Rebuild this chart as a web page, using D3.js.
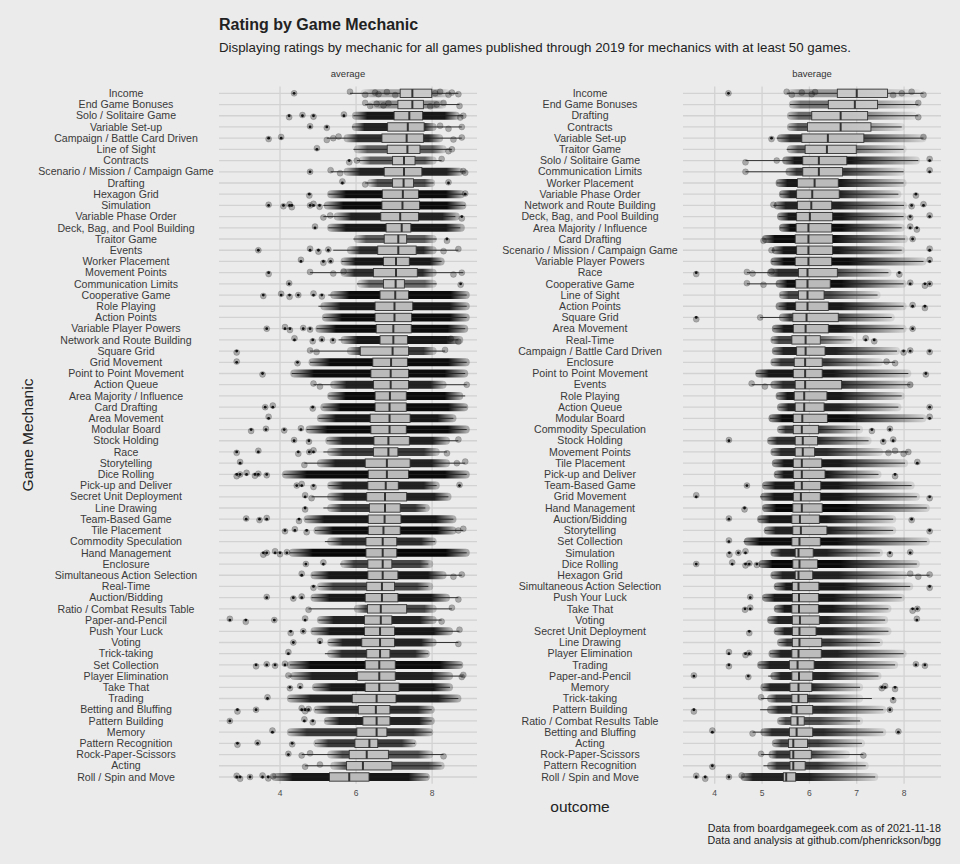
<!DOCTYPE html>
<html>
<head>
<meta charset="utf-8">
<script src="https://cdn.jsdelivr.net/npm/d3@7"></script>
<style>
  body { margin: 0; background: #ebebeb; }
  svg { display: block; font-family: "Liberation Sans", Arial, sans-serif; }
</style>
</head>
<body>
<svg id="chart" width="960" height="864"></svg>
<script>
// ---- average facet ----
var mechanicsAvg = ['Income', 'End Game Bonuses', 'Solo / Solitaire Game', 'Variable Set-up', 'Campaign / Battle Card Driven',
  'Line of Sight', 'Contracts', 'Scenario / Mission / Campaign Game', 'Drafting', 'Hexagon Grid', 'Simulation',
  'Variable Phase Order', 'Deck, Bag, and Pool Building', 'Traitor Game', 'Events', 'Worker Placement', 'Movement Points',
  'Communication Limits', 'Cooperative Game', 'Role Playing', 'Action Points', 'Variable Player Powers',
  'Network and Route Building', 'Square Grid', 'Grid Movement', 'Point to Point Movement', 'Action Queue',
  'Area Majority / Influence', 'Card Drafting', 'Area Movement', 'Modular Board', 'Stock Holding', 'Race', 'Storytelling',
  'Dice Rolling', 'Pick-up and Deliver', 'Secret Unit Deployment', 'Line Drawing', 'Team-Based Game', 'Tile Placement',
  'Commodity Speculation', 'Hand Management', 'Enclosure', 'Simultaneous Action Selection', 'Real-Time', 'Auction/Bidding',
  'Ratio / Combat Results Table', 'Paper-and-Pencil', 'Push Your Luck', 'Voting', 'Trick-taking', 'Set Collection',
  'Player Elimination', 'Take That', 'Trading', 'Betting and Bluffing', 'Pattern Building', 'Memory',
  'Pattern Recognition', 'Rock-Paper-Scissors', 'Acting', 'Roll / Spin and Move'];

// [whisker low, q1, median, q3, whisker high]
var statsAvg = [
  [5.84, 7.16, 7.48, 7.99, 8.69], [6.24, 7.10, 7.48, 7.77, 8.72], [5.93, 7.00, 7.40, 7.75, 8.82], [5.89, 6.83, 7.36, 7.79, 8.78],
  [5.23, 6.68, 7.33, 7.77, 8.78], [5.93, 6.82, 7.35, 7.68, 8.52], [6.02, 6.96, 7.26, 7.55, 8.25], [5.33, 6.74, 7.26, 7.73, 8.87],
  [6.24, 6.96, 7.25, 7.51, 8.04], [5.27, 6.69, 7.23, 7.64, 8.82], [5.14, 6.68, 7.22, 7.67, 8.87], [5.14, 6.65, 7.16, 7.64, 8.61],
  [5.27, 6.79, 7.20, 7.44, 8.74], [5.93, 6.74, 7.11, 7.33, 8.12], [5.40, 6.57, 7.11, 7.58, 8.69], [5.62, 6.72, 7.05, 7.40, 8.25],
  [4.79, 6.46, 7.05, 7.61, 8.82], [6.02, 6.72, 7.04, 7.27, 8.12], [5.27, 6.63, 7.03, 7.38, 8.91], [5.01, 6.50, 7.01, 7.49, 8.91],
  [5.14, 6.50, 7.01, 7.46, 8.91], [4.96, 6.53, 6.98, 7.45, 8.87], [5.54, 6.63, 6.98, 7.35, 8.69], [4.79, 6.11, 6.96, 7.38, 8.34],
  [4.79, 6.44, 6.92, 7.35, 8.91], [4.31, 6.39, 6.91, 7.38, 8.87], [4.88, 6.46, 6.91, 7.38, 8.91], [5.27, 6.50, 6.89, 7.32, 8.87],
  [5.12, 6.50, 6.88, 7.32, 8.91], [5.01, 6.37, 6.88, 7.42, 8.56], [4.70, 6.39, 6.88, 7.32, 8.91], [5.23, 6.47, 6.85, 7.40, 8.69],
  [5.14, 6.46, 6.85, 7.10, 8.39], [4.64, 6.24, 6.81, 7.42, 8.87], [4.09, 6.32, 6.81, 7.38, 8.91], [5.27, 6.31, 6.78, 7.11, 8.12],
  [4.83, 6.28, 6.76, 7.33, 8.43], [5.14, 6.35, 6.76, 7.16, 7.82], [4.66, 6.32, 6.75, 7.18, 8.56], [4.92, 6.32, 6.72, 7.16, 8.82],
  [5.18, 6.26, 6.70, 7.07, 8.08], [4.26, 6.26, 6.70, 7.07, 8.91], [5.58, 6.31, 6.70, 6.94, 7.90], [4.83, 6.31, 6.70, 7.10, 8.78],
  [5.01, 6.28, 6.68, 7.01, 7.90], [4.83, 6.24, 6.68, 7.10, 8.69], [4.75, 6.30, 6.65, 7.33, 8.52], [5.01, 6.22, 6.65, 6.94, 8.25],
  [4.83, 6.22, 6.63, 7.01, 8.72], [5.27, 6.15, 6.63, 7.01, 8.69], [5.18, 6.28, 6.63, 6.89, 7.90], [4.26, 6.24, 6.61, 7.03, 8.78],
  [4.22, 6.04, 6.61, 7.03, 8.82], [4.88, 6.24, 6.61, 7.13, 8.47], [4.22, 5.90, 6.54, 7.05, 8.69], [4.92, 6.06, 6.52, 6.89, 7.99],
  [5.18, 6.18, 6.54, 6.89, 7.99], [4.22, 6.02, 6.54, 6.81, 7.99], [4.92, 5.97, 6.35, 6.57, 7.55], [4.57, 5.82, 6.28, 6.85, 8.30],
  [4.66, 5.75, 6.18, 6.94, 8.25], [3.82, 5.30, 5.82, 6.34, 7.90]];

// dense part of the point cloud: [from, to, darkness]
var coreAvg = [
  [6.2, 8.4, 0.3], [6.4, 8.3, 0.4], [5.97, 8.65, 0.9], [5.97, 8.04, 0.85], [5.75, 8.21, 0.8], [6.02, 8.30, 0.6],
  [6.15, 8.04, 0.6], [5.75, 8.74, 0.85], [6.37, 8.0, 0.65], [5.32, 8.78, 0.95], [5.23, 8.82, 0.95], [5.49, 8.65, 0.85],
  [5.32, 8.78, 0.9], [6.02, 8.04, 0.6], [5.84, 8.04, 0.8], [5.67, 8.25, 0.9], [5.67, 8.04, 0.8], [6.11, 8.04, 0.55],
  [5.40, 8.91, 0.95], [5.14, 8.91, 0.9], [5.18, 8.91, 0.95], [5.01, 8.87, 0.95], [5.67, 8.74, 0.9], [5.84, 8.04, 0.75],
  [4.83, 8.91, 0.95], [4.35, 8.87, 0.95], [5.40, 8.30, 0.85], [5.32, 8.74, 0.95], [5.14, 8.87, 0.95], [5.05, 8.56, 0.9],
  [4.75, 8.91, 0.95], [5.27, 8.39, 0.85], [5.32, 8.12, 0.75], [5.05, 8.39, 0.85], [4.13, 8.91, 0.95], [5.32, 8.12, 0.85],
  [5.32, 8.43, 0.85], [5.32, 7.86, 0.75], [4.70, 8.56, 0.9], [4.96, 8.56, 0.95], [5.32, 8.04, 0.8], [4.31, 8.91, 0.97],
  [5.67, 7.95, 0.7], [4.88, 8.30, 0.9], [5.05, 7.95, 0.7], [4.88, 8.39, 0.9], [6.02, 8.04, 0.7], [5.05, 8.04, 0.85],
  [4.88, 8.47, 0.9], [5.32, 8.04, 0.85], [5.32, 7.86, 0.8], [4.26, 8.74, 0.95], [4.35, 8.47, 0.85], [4.92, 8.47, 0.9],
  [4.26, 8.69, 0.85], [4.96, 7.99, 0.8], [5.23, 7.99, 0.85], [4.26, 7.95, 0.75], [4.96, 7.51, 0.75], [5.32, 7.95, 0.65],
  [5.40, 8.25, 0.65], [3.85, 7.86, 0.9]];

// single points that stand apart from the cloud
var ptsAvg = [
  [4.37, 5.84, 6.24, 6.50, 6.59, 6.81, 7.03, 8.08, 8.21, 8.43, 8.52, 8.69], [6.24, 6.37, 6.54, 6.72, 6.85, 7.95, 8.12, 8.30, 8.72],
  [4.24, 4.59, 4.88, 5.68, 8.74, 8.82], [4.79, 5.23, 8.21, 8.43, 8.78], [3.70, 4.03, 5.23, 5.40, 5.54, 8.56, 8.78],
  [4.97, 8.43, 8.52], [5.82, 6.02, 8.25], [4.79, 5.33, 5.58, 8.82, 8.87], [5.64, 6.24, 8.43], [4.77, 8.87],
  [3.70, 4.09, 4.25, 4.31, 4.79, 4.88, 5.04], [5.14, 5.32, 8.78], [4.92], [8.39], [3.43, 4.79, 5.01, 5.27, 8.30, 8.69],
  [4.55, 5.14, 5.33], [3.70, 4.79, 5.40, 5.67, 8.56, 8.78], [4.24, 8.75], [3.56, 4.03, 4.25, 4.48, 4.88, 5.10], [], [],
  [3.65, 4.13, 4.26, 4.61, 4.79], [4.38, 4.86, 5.10, 5.39, 8.49, 8.69], [2.86, 4.79, 4.96, 8.34], [2.86, 4.46], [3.54],
  [4.88, 5.05, 8.91], [], [3.61, 3.81, 4.86], [3.70], [3.24, 3.63, 4.11, 4.55], [4.37, 4.76, 8.69],
  [2.86, 3.43, 4.48, 4.77, 4.88, 8.39], [2.95, 4.64, 8.65, 8.87], [2.86, 2.95, 3.12, 3.34, 3.43, 3.65], [4.44, 4.57, 4.88, 8.72],
  [4.66, 4.83], [4.66], [3.11, 3.46, 3.65, 4.50], [4.13, 4.39, 4.70, 8.69, 8.82], [], [3.56, 3.65, 3.87, 4.00, 4.18],
  [4.68, 5.14], [4.57, 8.56, 8.78], [4.88], [3.65, 4.35, 4.57, 8.69], [4.75, 8.52], [2.68, 3.10, 3.85, 4.66, 8.25],
  [4.28, 4.61, 8.72], [4.35, 5.05, 8.69], [4.22], [3.37, 3.65, 3.87, 4.13], [4.22, 8.78, 8.82], [4.26, 4.53], [3.67],
  [2.88, 3.37, 4.57, 4.66, 4.75], [2.68, 4.64, 4.86], [3.80], [2.88, 3.41, 4.32], [4.22, 4.57, 4.79, 8.30], [4.66, 5.05],
  [2.86, 2.95, 3.21, 3.54, 3.69, 3.82]];

// ---- baverage facet ----
var mechanicsBavg = ['Income', 'End Game Bonuses', 'Drafting', 'Contracts', 'Variable Set-up', 'Traitor Game',
  'Solo / Solitaire Game', 'Communication Limits', 'Worker Placement', 'Variable Phase Order', 'Network and Route Building',
  'Deck, Bag, and Pool Building', 'Area Majority / Influence', 'Card Drafting', 'Scenario / Mission / Campaign Game',
  'Variable Player Powers', 'Race', 'Cooperative Game', 'Line of Sight', 'Action Points', 'Square Grid', 'Area Movement',
  'Real-Time', 'Campaign / Battle Card Driven', 'Enclosure', 'Point to Point Movement', 'Events', 'Role Playing',
  'Action Queue', 'Modular Board', 'Commodity Speculation', 'Stock Holding', 'Movement Points', 'Tile Placement',
  'Pick-up and Deliver', 'Team-Based Game', 'Grid Movement', 'Hand Management', 'Auction/Bidding', 'Storytelling',
  'Set Collection', 'Simulation', 'Dice Rolling', 'Hexagon Grid', 'Simultaneous Action Selection', 'Push Your Luck',
  'Take That', 'Voting', 'Secret Unit Deployment', 'Line Drawing', 'Player Elimination', 'Trading', 'Paper-and-Pencil',
  'Memory', 'Trick-taking', 'Pattern Building', 'Ratio / Combat Results Table', 'Betting and Bluffing', 'Acting',
  'Rock-Paper-Scissors', 'Pattern Recognition', 'Roll / Spin and Move'];

var statsBavg = [
  [5.52, 6.59, 7.00, 7.65, 8.41], [5.59, 6.40, 6.96, 7.44, 8.30], [5.56, 6.05, 6.66, 7.23, 8.30], [5.56, 5.96, 6.66, 7.30, 7.95],
  [5.31, 5.84, 6.39, 7.15, 8.41], [5.52, 5.91, 6.37, 6.99, 7.99], [4.65, 5.86, 6.20, 6.79, 8.30], [4.65, 5.86, 6.20, 6.70, 7.99],
  [5.31, 5.75, 6.11, 6.61, 7.99], [5.38, 5.73, 6.06, 6.63, 7.88], [5.24, 5.75, 6.04, 6.47, 8.00], [5.35, 5.73, 6.01, 6.49, 7.99],
  [5.38, 5.72, 5.98, 6.47, 7.95], [5.03, 5.70, 5.98, 6.49, 8.02], [5.20, 5.73, 5.98, 6.49, 7.95], [5.20, 5.70, 5.98, 6.47, 8.41],
  [4.68, 5.77, 5.96, 6.59, 7.67], [4.68, 5.71, 5.96, 6.44, 7.99], [5.38, 5.77, 5.96, 6.31, 7.44], [5.35, 5.71, 5.96, 6.40, 7.99],
  [4.96, 5.65, 5.94, 6.61, 7.74], [5.24, 5.66, 5.92, 6.40, 7.99], [5.20, 5.63, 5.92, 6.23, 6.89], [5.24, 5.73, 5.92, 6.33, 7.85],
  [5.20, 5.68, 5.91, 6.27, 7.81], [4.87, 5.66, 5.91, 6.27, 8.09], [4.78, 5.70, 5.91, 6.68, 8.13], [5.31, 5.68, 5.89, 6.37, 7.95],
  [5.35, 5.70, 5.89, 6.31, 7.88], [5.17, 5.66, 5.85, 6.38, 8.41], [5.35, 5.66, 5.84, 6.19, 7.07], [5.13, 5.70, 5.86, 6.17, 7.25],
  [5.20, 5.70, 5.86, 6.11, 8.09], [5.24, 5.66, 5.84, 6.26, 8.02], [5.27, 5.66, 5.84, 6.33, 7.46], [5.03, 5.68, 5.84, 6.24, 8.16],
  [4.96, 5.66, 5.82, 6.23, 8.27], [5.03, 5.65, 5.84, 6.27, 8.48], [4.92, 5.63, 5.80, 6.21, 7.77], [5.06, 5.65, 5.82, 6.37, 7.77],
  [4.61, 5.63, 5.79, 6.23, 8.48], [5.20, 5.70, 5.77, 6.08, 7.49], [4.96, 5.65, 5.79, 6.17, 8.27], [5.20, 5.70, 5.77, 6.07, 8.54],
  [5.27, 5.64, 5.77, 6.20, 8.13], [5.03, 5.64, 5.78, 6.19, 7.95], [5.27, 5.63, 5.78, 6.19, 7.67], [5.13, 5.64, 5.80, 6.21, 7.60],
  [5.27, 5.64, 5.79, 6.14, 7.67], [5.35, 5.64, 5.79, 6.26, 7.49], [5.17, 5.63, 5.77, 6.25, 7.99], [4.92, 5.58, 5.75, 6.10, 7.81],
  [5.13, 5.63, 5.78, 6.07, 7.46], [5.01, 5.59, 5.77, 6.05, 7.07], [4.98, 5.63, 5.77, 5.96, 7.32], [4.96, 5.63, 5.73, 6.07, 7.56],
  [5.35, 5.61, 5.75, 5.89, 7.07], [4.80, 5.58, 5.73, 6.07, 7.56], [5.24, 5.56, 5.66, 5.96, 7.11], [4.98, 5.59, 5.66, 6.04, 7.14],
  [5.03, 5.59, 5.66, 5.91, 7.19], [4.57, 5.45, 5.51, 5.71, 7.39]];

var coreBavg = [
  [5.6, 8.3, 0.35], [5.63, 8.27, 0.5], [5.59, 8.20, 0.55], [5.59, 7.95, 0.6], [5.38, 8.41, 0.8], [5.59, 7.99, 0.6],
  [5.49, 8.27, 0.9], [5.56, 7.95, 0.75], [5.35, 7.99, 0.9], [5.42, 7.88, 0.85], [5.31, 8.00, 0.85], [5.38, 7.99, 0.9],
  [5.42, 7.95, 0.95], [5.06, 8.02, 0.95], [5.27, 7.95, 0.9], [5.24, 8.41, 0.95], [5.17, 7.67, 0.8], [5.35, 7.99, 0.95],
  [5.42, 7.44, 0.7], [5.35, 7.99, 0.9], [5.42, 7.74, 0.75], [5.27, 7.99, 0.9], [5.24, 6.89, 0.7], [5.27, 7.85, 0.85],
  [5.24, 7.49, 0.75], [4.92, 8.09, 0.9], [5.24, 8.13, 0.8], [5.35, 7.95, 0.9], [5.38, 7.88, 0.85], [5.20, 8.41, 0.95],
  [5.38, 7.07, 0.75], [5.17, 7.25, 0.8], [5.24, 7.49, 0.8], [5.27, 8.02, 0.9], [5.31, 7.46, 0.9], [5.06, 8.16, 0.9],
  [5.03, 8.27, 0.9], [5.06, 8.48, 0.97], [4.96, 7.77, 0.9], [5.10, 7.77, 0.85], [4.68, 8.48, 0.95], [5.24, 7.49, 0.85],
  [4.99, 8.27, 0.97], [5.24, 8.0, 0.85], [5.31, 8.13, 0.9], [5.06, 7.95, 0.9], [5.31, 7.67, 0.9], [5.17, 7.60, 0.85],
  [5.31, 7.67, 0.85], [5.38, 7.49, 0.75], [5.20, 7.99, 0.85], [4.96, 7.81, 0.85], [5.24, 7.46, 0.85], [5.03, 7.07, 0.85],
  [5.17, 7.07, 0.75], [5.17, 7.56, 0.8], [5.38, 7.07, 0.65], [5.03, 7.56, 0.8], [5.27, 7.11, 0.7], [5.20, 6.79, 0.75],
  [5.17, 7.19, 0.75], [4.61, 7.39, 0.85]];

var ptsBavg = [
  [4.29, 5.52, 5.63, 5.84, 6.05, 6.12, 7.77, 7.95, 8.16, 8.41], [8.30], [8.30], [], [5.20, 8.41], [],
  [4.65, 5.31, 8.54], [4.65, 8.54], [], [8.25], [5.24, 8.16, 8.41], [8.13, 8.54], [8.13, 8.27], [5.03, 8.18],
  [5.20, 8.54], [8.54], [3.61, 4.68, 4.80, 5.20, 7.90], [4.68, 5.03, 8.13, 8.44, 8.54], [], [8.18, 8.44],
  [3.61, 4.96], [8.18], [7.19, 7.37], [7.99, 8.13, 8.54], [7.63, 7.81], [8.46], [4.78, 5.06, 8.13], [], [8.54], [8.54],
  [7.32, 7.70], [4.30, 7.56, 7.77], [7.67, 7.81, 7.99, 8.09], [8.28], [7.81], [4.68], [3.61, 8.54], [4.63], [4.30, 8.16],
  [8.54], [4.30], [4.31, 4.50, 4.65, 7.70, 8.13], [3.61, 4.37, 4.65, 4.73, 4.89], [8.13, 8.30, 8.54], [8.54], [4.75],
  [4.64, 4.75, 8.18, 8.28], [8.27], [4.73], [], [4.30, 4.65, 4.73], [4.30, 8.25, 8.44], [3.56, 4.71], [7.53, 7.60, 7.81],
  [4.98, 7.77], [3.56, 7.70], [], [3.95, 4.80, 7.88], [], [4.98, 7.14], [3.95], [3.61, 3.80, 4.30, 4.57]];

var ticksAvg = [4, 6, 8];
var ticksBavg = [4, 5, 6, 7, 8];

var svg = d3.select('#chart');
var defs = svg.append('defs');

svg.append('rect').attr('width', 960).attr('height', 864).attr('fill', '#ebebeb');

var jitter = [0, -1.6, 1.4, -0.7, 0.9, -1.2, 1.8];

// how the cloud fades at its ends: [offset, share of darkness]
var fadeAvg = [[0, 0.3], [0.12, 1], [0.88, 1], [1, 0.3]];
var fadeBavg = [[0, 0.45], [0.07, 1], [0.5, 1], [0.8, 0.45], [1, 0.12]];

function facet(name, names, stats, core, pts, ticks, domain, left, right, fade) {
	var top = 86.6, bottom = 783.7;
	var x = d3.scaleLinear().domain(domain).range([left, right]);
	var y = d3.scalePoint().domain(names).range([top, bottom]).padding(0.6);
	var g = svg.append('g');

	// strip label
	svg.append('text')
		.attr('x', (left + right) / 2).attr('y', 77)
		.attr('text-anchor', 'middle')
		.attr('font-size', 9.5).attr('fill', '#333')
		.text(name);

	// grid
	g.selectAll('.vgrid').data(ticks).enter().append('line')
		.attr('x1', function(d) { return x(d); }).attr('x2', function(d) { return x(d); })
		.attr('y1', top).attr('y2', bottom)
		.attr('stroke', '#d2d2d2').attr('stroke-width', 1.3);
	g.selectAll('.hgrid').data(names).enter().append('line')
		.attr('x1', left).attr('x2', right)
		.attr('y1', function(d) { return y(d); }).attr('y2', function(d) { return y(d); })
		.attr('stroke', '#d2d2d2').attr('stroke-width', 1.3);

	// category labels, centred like the original
	svg.selectAll(null).data(names).enter().append('text')
		.attr('x', left - 93).attr('y', function(d) { return y(d) + 3.7; })
		.attr('text-anchor', 'middle')
		.attr('font-size', 10.6).attr('fill', '#3a3a3a')
		.text(function(d) { return d; });

	// tick labels
	svg.selectAll(null).data(ticks).enter().append('text')
		.attr('x', function(d) { return x(d); }).attr('y', 796)
		.attr('text-anchor', 'middle')
		.attr('font-size', 8.5).attr('fill', '#4d4d4d')
		.text(function(d) { return d; });

	names.forEach(function(m, i) {
		var cy = y(m);
		var c = core[i];
		var gid = name + '-core-' + i;
		var grad = defs.append('linearGradient').attr('id', gid)
			.attr('gradientUnits', 'userSpaceOnUse')
			.attr('x1', x(c[0])).attr('x2', x(c[1])).attr('y1', 0).attr('y2', 0);
		fade.forEach(function(s) {
			grad.append('stop').attr('offset', s[0])
				.attr('stop-color', '#000').attr('stop-opacity', c[2] * s[1]);
		});
		g.append('rect')
			.attr('x', x(c[0]) - 3).attr('width', x(c[1]) - x(c[0]) + 6)
			.attr('y', cy - 4).attr('height', 8).attr('rx', 4)
			.attr('fill', 'url(#' + gid + ')');

		var s = stats[i];
		pts[i].forEach(function(v, j) {
			g.append('circle')
				.attr('cx', x(v)).attr('cy', cy + jitter[(i + j) % jitter.length])
				.attr('r', 3)
				.attr('fill', '#000').attr('fill-opacity', 0.28)
				.attr('stroke', '#000').attr('stroke-opacity', 0.25).attr('stroke-width', 0.6);
			if (v < s[0] - 0.01 || v > s[4] + 0.01) {
				g.append('circle').attr('cx', x(v)).attr('cy', cy).attr('r', 1.4).attr('fill', '#111');
			}
		});

		// boxplot
		g.append('line').attr('x1', x(s[0])).attr('x2', x(s[1])).attr('y1', cy).attr('y2', cy)
			.attr('stroke', '#222').attr('stroke-width', 0.9);
		g.append('line').attr('x1', x(s[3])).attr('x2', x(s[4])).attr('y1', cy).attr('y2', cy)
			.attr('stroke', '#222').attr('stroke-width', 0.9);
		g.append('rect')
			.attr('x', x(s[1])).attr('width', x(s[3]) - x(s[1]))
			.attr('y', cy - 4.2).attr('height', 8.4)
			.attr('fill', '#cdcdcd').attr('fill-opacity', 0.9)
			.attr('stroke', '#333').attr('stroke-width', 0.9);
		g.append('line').attr('x1', x(s[2])).attr('x2', x(s[2]))
			.attr('y1', cy - 4.2).attr('y2', cy + 4.2)
			.attr('stroke', '#333').attr('stroke-width', 2);
	});
}

facet('average', mechanicsAvg, statsAvg, coreAvg, ptsAvg, ticksAvg, [2.395, 9.18], 219, 477, fadeAvg);
facet('baverage', mechanicsBavg, statsBavg, coreBavg, ptsBavg, ticksBavg, [3.33, 8.78], 683, 941, fadeBavg);

// titles
svg.append('text').attr('x', 219).attr('y', 30)
	.attr('font-size', 16).attr('font-weight', 'bold').attr('fill', '#222')
	.text('Rating by Game Mechanic');
svg.append('text').attr('x', 219).attr('y', 52)
	.attr('font-size', 13.3).attr('fill', '#222')
	.text('Displaying ratings by mechanic for all games published through 2019 for mechanics with at least 50 games.');

svg.append('text')
	.attr('transform', 'translate(33,435) rotate(-90)')
	.attr('text-anchor', 'middle')
	.attr('font-size', 15.5).attr('fill', '#222')
	.text('Game Mechanic');
svg.append('text').attr('x', 580).attr('y', 812)
	.attr('text-anchor', 'middle')
	.attr('font-size', 15.5).attr('fill', '#222')
	.text('outcome');

svg.append('text').attr('x', 941).attr('y', 832)
	.attr('text-anchor', 'end').attr('font-size', 10.7).attr('fill', '#222')
	.text('Data from boardgamegeek.com as of 2021-11-18');
svg.append('text').attr('x', 941).attr('y', 844)
	.attr('text-anchor', 'end').attr('font-size', 10.7).attr('fill', '#222')
	.text('Data and analysis at github.com/phenrickson/bgg');
</script>
</body>
</html>
